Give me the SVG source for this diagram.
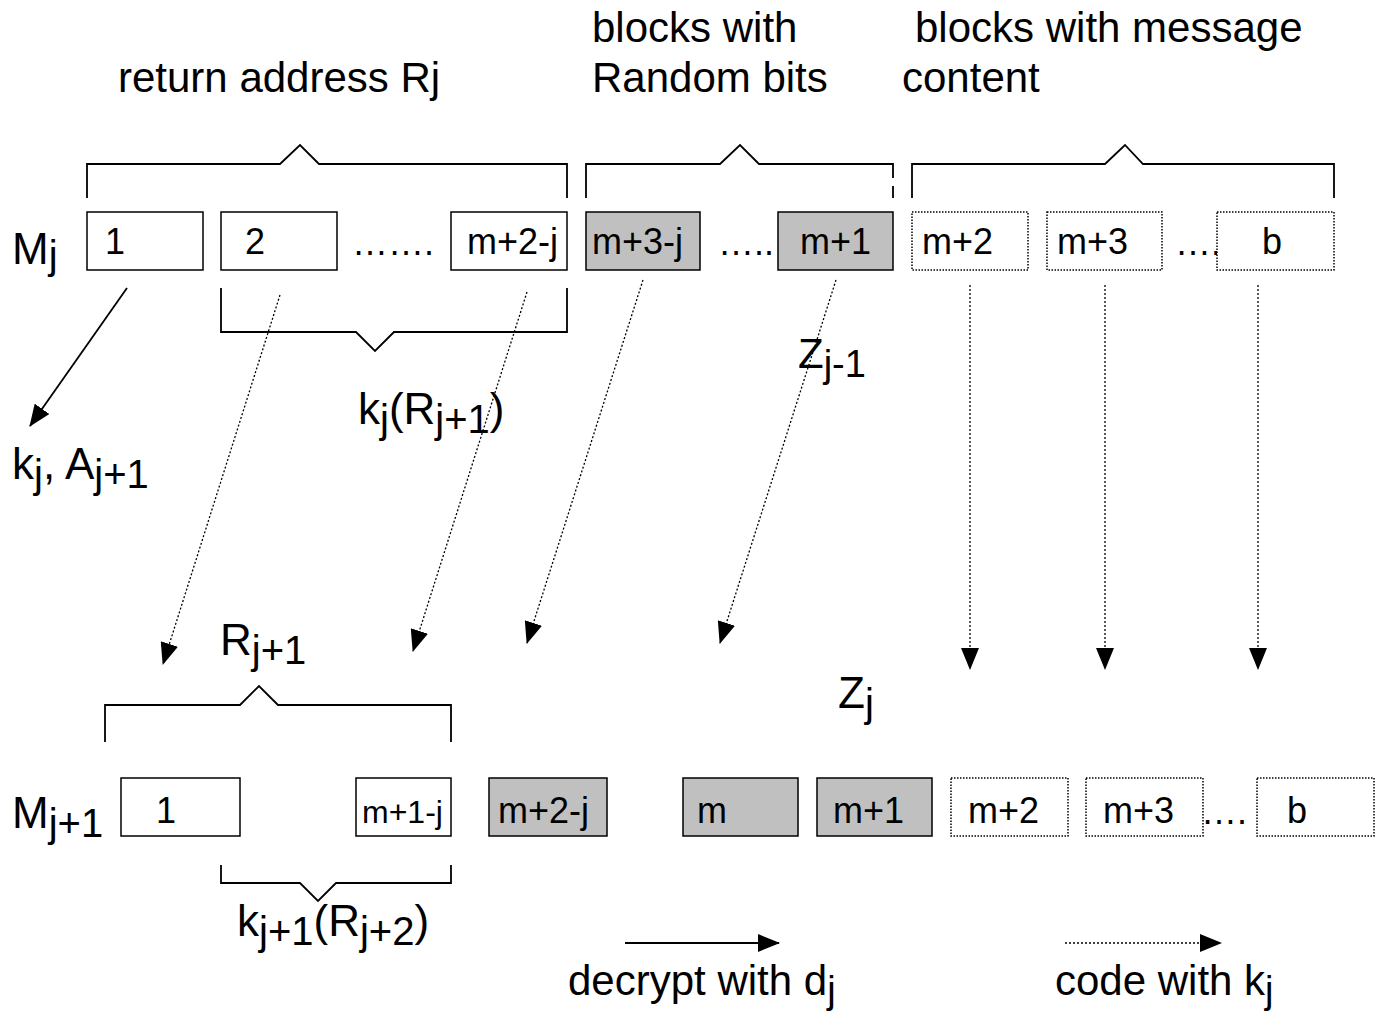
<svg xmlns="http://www.w3.org/2000/svg" width="1377" height="1013" viewBox="0 0 1377 1013">
<style>
text{font-family:"Liberation Sans",Arial,sans-serif;fill:#000}
.lbl{font-size:42px}
.big{font-size:44px}
.bx{font-size:36px}
.sub{font-size:38px}
.sb{font-size:40px}
.box{fill:#fff;stroke:#000;stroke-width:1.5}
.gray{fill:#c0c0c0;stroke:#000;stroke-width:1.5}
.dot{fill:#fff;stroke:#000;stroke-width:1.5;stroke-dasharray:1.5 1.5}
.brace{fill:none;stroke:#000;stroke-width:1.8}
.solid{stroke:#000;stroke-width:1.8;fill:none}
.dash{stroke:#000;stroke-width:1.3;stroke-dasharray:2 2;fill:none}
</style>
<defs>
<marker id="ah" markerUnits="userSpaceOnUse" markerWidth="22" markerHeight="18" refX="21" refY="9" orient="auto">
<path d="M0,0 L22,9 L0,18 z" fill="#000"/>
</marker>
</defs>

<g id="headings">
<text class="lbl" x="118" y="92">return address Rj</text>
<text class="lbl" x="592" y="42">blocks with</text>
<text class="lbl" x="592" y="92">Random bits</text>
<text class="lbl" x="915" y="42">blocks with message</text>
<text class="lbl" x="902" y="92">content</text>
</g>

<g id="braces">
<path class="brace" d="M87,198 V164 H280 L300,145 L319,164 H567 V198"/>
<path class="brace" d="M586,198 V164 H720 L740,145 L759,164 H893 V178 M893,186 V198"/>
<path class="brace" d="M912,198 V164 H1105 L1125,145 L1143,164 H1334 V198"/>
<path class="brace" d="M221,288 V332 H356 L375,351 L394,332 H567 V288"/>
<path class="brace" d="M105,742 V705 H240 L259,686 L278,705 H451 V742"/>
<path class="brace" d="M221,865 V883 H300 L318,901 L336,883 H451 V865"/>
</g>

<g id="row-Mj">
<text class="big" x="12" y="264">M<tspan class="sb" dy="5">j</tspan></text>
<g id="b1"><rect class="box" x="87" y="212" width="116" height="58"/><text class="bx" x="105" y="254">1</text></g>
<g id="b2"><rect class="box" x="221" y="212" width="116" height="58"/><text class="bx" x="245" y="254">2</text></g>
<text class="bx" x="352" y="255">…….</text>
<g id="b3"><rect class="box" x="451" y="212" width="116" height="58"/><text class="bx" x="467" y="254">m+2-j</text></g>
<g id="b4"><rect class="gray" x="586" y="212" width="114" height="58"/><text class="bx" x="592" y="254">m+3-j</text></g>
<text class="bx" x="718" y="255">…..</text>
<g id="b5"><rect class="gray" x="778" y="212" width="115" height="58"/><text class="bx" x="800" y="254">m+1</text></g>
<g id="b6"><rect class="dot" x="912" y="212" width="116" height="58"/><text class="bx" x="922" y="254">m+2</text></g>
<g id="b7"><rect class="dot" x="1047" y="212" width="115" height="58"/><text class="bx" x="1057" y="254">m+3</text></g>
<text class="bx" x="1175" y="255">….</text>
<g id="b8"><rect class="dot" x="1217" y="212" width="117" height="58"/><text class="bx" x="1262" y="254">b</text></g>
</g>

<g id="labels-mid">
<text class="lbl" x="798" y="368">Z<tspan class="sub" dy="9">j-1</tspan></text>
<text class="big" x="358" y="424">k<tspan class="sb" dy="9">j</tspan><tspan dy="-9">(R</tspan><tspan class="sb" dy="9">j+1</tspan><tspan dy="-9">)</tspan></text>
<text class="big" x="12" y="479">k<tspan class="sb" dy="9">j</tspan><tspan dy="-9">, A</tspan><tspan class="sb" dy="9">j+1</tspan></text>
<text class="big" x="220" y="655">R<tspan class="sb" dy="9">j+1</tspan></text>
<text class="big" x="838" y="708">Z<tspan class="sb" dy="9">j</tspan></text>
</g>

<g id="row-Mj1">
<text class="big" x="12" y="828">M<tspan class="sb" dy="9">j+1</tspan></text>
<g id="c1"><rect class="box" x="121" y="778" width="119" height="58"/><text class="bx" x="156" y="823">1</text></g>
<g id="c2"><rect class="box" x="356" y="778" width="95" height="58"/><text x="362" y="823" style="font-size:32px">m+1-j</text></g>
<g id="c3"><rect class="gray" x="489" y="778" width="118" height="58"/><text class="bx" x="498" y="823">m+2-j</text></g>
<g id="c4"><rect class="gray" x="683" y="778" width="115" height="58"/><text class="bx" x="697" y="823">m</text></g>
<g id="c5"><rect class="gray" x="817" y="778" width="115" height="58"/><text class="bx" x="833" y="823">m+1</text></g>
<g id="c6"><rect class="dot" x="951" y="778" width="117" height="58"/><text class="bx" x="968" y="823">m+2</text></g>
<g id="c7"><rect class="dot" x="1086" y="778" width="117" height="58"/><text class="bx" x="1103" y="823">m+3</text></g>
<text class="bx" x="1201" y="824">….</text>
<g id="c8"><rect class="dot" x="1257" y="778" width="117" height="58"/><text class="bx" x="1287" y="823">b</text></g>
<text class="big" x="237" y="936">k<tspan class="sb" dy="9">j+1</tspan><tspan dy="-9">(R</tspan><tspan class="sb" dy="9">j+2</tspan><tspan dy="-9">)</tspan></text>
</g>

<g id="connectors">
<line class="solid" x1="127" y1="288" x2="30" y2="426" marker-end="url(#ah)"/>
<line class="dash" x1="280" y1="295" x2="163" y2="664" marker-end="url(#ah)"/>
<line class="dash" x1="527" y1="292" x2="413" y2="651" marker-end="url(#ah)"/>
<line class="dash" x1="643" y1="280" x2="527" y2="643" marker-end="url(#ah)"/>
<line class="dash" x1="836" y1="280" x2="720" y2="643" marker-end="url(#ah)"/>
<line class="dash" x1="970" y1="285" x2="970" y2="669" marker-end="url(#ah)"/>
<line class="dash" x1="1105" y1="285" x2="1105" y2="669" marker-end="url(#ah)"/>
<line class="dash" x1="1258" y1="285" x2="1258" y2="669" marker-end="url(#ah)"/>
</g>

<g id="legend">
<line class="solid" x1="625" y1="943" x2="779" y2="943" marker-end="url(#ah)"/>
<line class="dash" x1="1065" y1="943" x2="1221" y2="943" marker-end="url(#ah)"/>
<text class="lbl" x="568" y="995">decrypt with d<tspan class="sub" dy="8">j</tspan></text>
<text class="lbl" x="1055" y="995">code with k<tspan class="sub" dy="8">j</tspan></text>
</g>
</svg>
